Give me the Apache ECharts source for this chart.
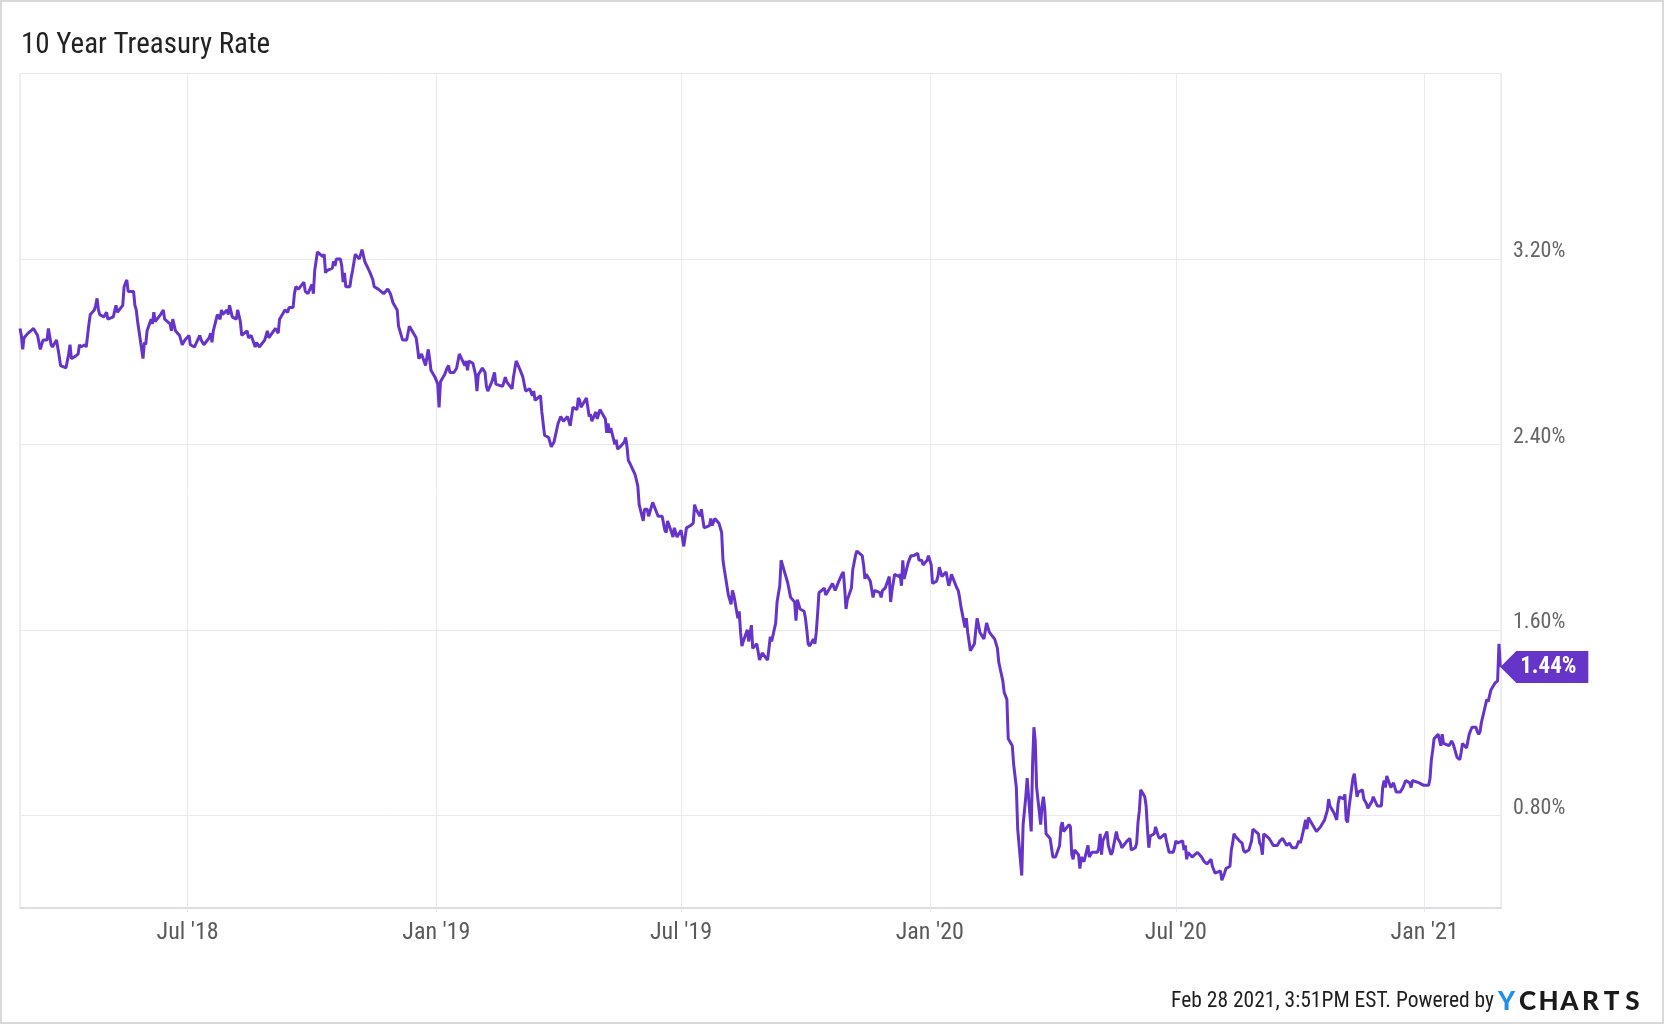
<!DOCTYPE html>
<html>
<head>
<meta charset="utf-8">
<title>10 Year Treasury Rate</title>
<script src="https://cdn.jsdelivr.net/npm/echarts@6/dist/echarts.min.js"></script>
<style>
  html, body { margin: 0; padding: 0; background: #fff; }
  #main { width: 1664px; height: 1024px; }
  #frame {
    position: absolute; left: 0; top: 0; width: 1664px; height: 1024px;
    box-sizing: border-box; border: 2px solid #dadada; pointer-events: none;
  }
</style>
</head>
<body>
<div id="main"></div>
<div id="frame"></div>
<script>
// closing rates, grouped by year (MM-DD)
const days2018 = ['02-27','02-28','03-01','03-02','03-05','03-07','03-09','03-12','03-14','03-16','03-19','03-20','03-22','03-23','03-26','03-28','03-29',
  '04-02','04-04','04-05','04-06','04-09','04-11','04-12','04-13','04-16','04-17','04-19','04-20','04-23','04-24','04-25','04-26','04-27','04-30',
  '05-02','05-03','05-07','05-09','05-10','05-14','05-15','05-17','05-18','05-22','05-23','05-24','05-25','05-29','05-30','05-31',
  '06-01','06-04','06-05','06-06','06-07','06-11','06-13','06-14','06-18','06-19','06-20','06-22','06-25','06-27','06-29',
  '07-02','07-03','07-06','07-10','07-11','07-13','07-17','07-18','07-19','07-20','07-23','07-25','07-26','07-27','07-30','07-31',
  '08-01','08-03','08-06','08-07','08-09','08-10','08-14','08-15','08-17','08-20','08-21','08-23','08-27','08-29','08-30',
  '09-04','09-06','09-07','09-11','09-13','09-14','09-17','09-18','09-19','09-21','09-25','09-26','09-28',
  '10-01','10-02','10-03','10-04','10-05','10-09','10-10','10-11','10-12','10-16','10-17','10-18','10-19','10-22','10-23','10-24','10-25','10-26','10-29','10-30','10-31',
  '11-02','11-05','11-07','11-08','11-09','11-13','11-15','11-16','11-19','11-21','11-23','11-26','11-28','11-30',
  '12-03','12-04','12-06','12-07','12-10','12-12','12-14','12-17','12-18','12-19','12-21','12-24','12-26','12-27','12-28','12-31'];
const rates2018 = [2.90,2.87,2.81,2.86,2.88,2.89,2.90,2.87,2.81,2.85,2.85,2.90,2.83,2.82,2.85,2.78,2.74,
  2.73,2.79,2.83,2.77,2.78,2.79,2.83,2.82,2.83,2.82,2.92,2.96,2.98,3.00,3.03,2.98,2.96,2.95,
  2.97,2.94,2.95,3.00,2.97,3.00,3.08,3.11,3.06,3.06,3.00,2.98,2.93,2.77,2.84,2.83,
  2.89,2.94,2.92,2.97,2.93,2.96,2.98,2.94,2.92,2.89,2.94,2.89,2.87,2.83,2.85,
  2.87,2.83,2.82,2.87,2.85,2.83,2.86,2.88,2.84,2.89,2.96,2.94,2.98,2.96,2.98,2.96,
  3.00,2.95,2.94,2.98,2.93,2.87,2.89,2.86,2.87,2.82,2.84,2.82,2.85,2.89,2.86,
  2.90,2.88,2.94,2.98,2.97,2.99,2.99,3.05,3.08,3.07,3.10,3.06,3.05,
  3.09,3.05,3.15,3.19,3.23,3.21,3.22,3.14,3.15,3.16,3.19,3.17,3.20,3.20,3.17,3.10,3.14,3.08,3.08,3.12,3.15,
  3.22,3.20,3.24,3.24,3.19,3.14,3.11,3.08,3.07,3.06,3.05,3.07,3.05,3.01,
  2.98,2.91,2.87,2.85,2.85,2.91,2.89,2.86,2.82,2.77,2.79,2.74,2.81,2.77,2.72,2.69];

const days2019 = ['01-02','01-03','01-04','01-07','01-09','01-10','01-11','01-14','01-16','01-18','01-22','01-23','01-24','01-25','01-28','01-30','01-31',
  '02-01','02-04','02-06','02-07','02-08','02-11','02-13','02-14','02-19','02-21','02-22','02-26','02-27',
  '03-01','03-04','03-06','03-08','03-11','03-13','03-14','03-15','03-19','03-20','03-22','03-25','03-27','03-29',
  '04-01','04-03','04-05','04-08','04-10','04-12','04-15','04-16','04-17','04-18','04-22','04-24','04-25','04-26','04-29','04-30',
  '05-02','05-06','05-07','05-08','05-09','05-10','05-13','05-14','05-15','05-17','05-20','05-21','05-22','05-23','05-24','05-28','05-30','05-31',
  '06-03','06-04','06-06','06-07','06-10','06-12','06-14','06-17','06-19','06-20','06-21','06-24','06-25','06-26','06-28',
  '07-01','07-03','07-05','07-08','07-10','07-11','07-12','07-15','07-16','07-18','07-22','07-23','07-24','07-26','07-29','07-31',
  '08-01','08-02','08-05','08-07','08-08','08-09','08-12','08-13','08-14','08-15','08-16','08-19','08-20','08-22','08-23','08-26','08-28','08-30',
  '09-03','09-05','09-06','09-09','09-10','09-12','09-13','09-16','09-18','09-20','09-23','09-24','09-25','09-27','09-30',
  '10-01','10-02','10-03','10-04','10-07','10-08','10-09','10-10','10-11','10-15','10-16','10-17','10-18','10-21','10-23','10-24','10-25','10-28','10-29','10-30','10-31',
  '11-01','11-04','11-05','11-07','11-08','11-12','11-13','11-14','11-15','11-18','11-20','11-21','11-22','11-25','11-26','11-27','11-29',
  '12-02','12-03','12-04','12-06','12-09','12-10','12-11','12-12','12-13','12-16','12-18','12-20','12-23','12-24','12-26','12-27','12-30','12-31'];
const rates2019 = [2.66,2.56,2.67,2.70,2.73,2.74,2.71,2.71,2.73,2.79,2.74,2.76,2.72,2.76,2.75,2.70,2.63,
  2.70,2.73,2.71,2.65,2.63,2.67,2.71,2.66,2.65,2.69,2.67,2.64,2.69,
  2.76,2.72,2.69,2.63,2.64,2.61,2.63,2.59,2.61,2.54,2.44,2.43,2.39,2.41,
  2.49,2.52,2.50,2.52,2.48,2.56,2.55,2.60,2.59,2.56,2.60,2.52,2.53,2.50,2.54,2.51,
  2.55,2.51,2.45,2.49,2.45,2.47,2.40,2.42,2.38,2.39,2.41,2.43,2.39,2.33,2.32,2.27,2.22,2.14,
  2.07,2.12,2.12,2.09,2.15,2.12,2.09,2.09,2.03,2.02,2.07,2.02,2.00,2.04,2.00,
  2.03,1.96,2.04,2.05,2.06,2.14,2.12,2.09,2.12,2.04,2.05,2.08,2.05,2.08,2.06,2.02,
  1.90,1.86,1.75,1.71,1.77,1.75,1.65,1.68,1.59,1.53,1.55,1.60,1.55,1.62,1.52,1.54,1.47,1.50,
  1.47,1.57,1.55,1.63,1.72,1.79,1.90,1.84,1.80,1.74,1.72,1.64,1.73,1.69,1.68,
  1.65,1.60,1.54,1.53,1.56,1.54,1.59,1.67,1.76,1.78,1.75,1.76,1.76,1.80,1.77,1.77,1.80,1.84,1.85,1.78,1.69,
  1.73,1.78,1.86,1.92,1.94,1.92,1.88,1.82,1.84,1.81,1.74,1.77,1.77,1.76,1.74,1.77,1.78,
  1.83,1.72,1.77,1.84,1.83,1.84,1.79,1.90,1.82,1.89,1.92,1.92,1.93,1.90,1.90,1.88,1.90,1.92];

const days2020 = ['01-02','01-03','01-06','01-07','01-08','01-09','01-10','01-13','01-14','01-15','01-16','01-17','01-21','01-22','01-23','01-24','01-27','01-28','01-29','01-31',
  '02-03','02-04','02-05','02-06','02-07','02-10','02-12','02-13','02-14','02-18','02-19','02-20','02-21','02-24','02-25','02-27','02-28',
  '03-02','03-03','03-04','03-05','03-06','03-09','03-10','03-11','03-12','03-13','03-16','03-17','03-18','03-19','03-20','03-23','03-24','03-25','03-26','03-27','03-30','03-31',
  '04-01','04-03','04-06','04-07','04-08','04-09','04-13','04-14','04-15','04-16','04-17','04-20','04-21','04-22','04-24','04-27','04-28','04-30',
  '05-01','05-04','05-05','05-06','05-07','05-08','05-11','05-12','05-14','05-15','05-18','05-19','05-21','05-22','05-26','05-28','05-29',
  '06-01','06-02','06-03','06-04','06-05','06-08','06-09','06-10','06-11','06-12','06-15','06-16','06-18','06-19','06-23','06-24','06-26','06-29','06-30',
  '07-01','07-02','07-06','07-07','07-08','07-09','07-10','07-13','07-15','07-17','07-20','07-22','07-24','07-27','07-28','07-30','07-31',
  '08-03','08-04','08-06','08-07','08-10','08-11','08-12','08-13','08-14','08-17','08-19','08-20','08-21','08-24','08-26','08-27','08-28','08-31',
  '09-01','09-02','09-03','09-04','09-08','09-10','09-11','09-14','09-16','09-18','09-21','09-23','09-24','09-25','09-28','09-30',
  '10-01','10-02','10-05','10-06','10-07','10-09','10-13','10-14','10-16','10-19','10-20','10-21','10-22','10-23','10-26','10-28','10-29','10-30',
  '11-02','11-03','11-04','11-05','11-06','11-09','11-10','11-12','11-13','11-16','11-17','11-19','11-20','11-23','11-24','11-25','11-27','11-30',
  '12-01','12-02','12-03','12-04','12-07','12-09','12-11','12-14','12-16','12-18','12-21','12-22','12-23','12-28','12-31'];
const rates2020 = [1.88,1.80,1.81,1.83,1.87,1.85,1.83,1.85,1.82,1.79,1.81,1.84,1.78,1.77,1.74,1.70,1.61,1.65,1.59,1.51,
  1.54,1.60,1.65,1.65,1.59,1.56,1.63,1.61,1.59,1.56,1.56,1.52,1.46,1.38,1.33,1.30,1.13,
  1.10,1.02,1.02,0.92,0.74,0.54,0.76,0.82,0.88,0.96,0.73,1.02,1.18,1.12,0.92,0.76,0.84,0.88,0.83,0.72,0.70,0.70,
  0.62,0.62,0.67,0.75,0.77,0.73,0.76,0.75,0.63,0.61,0.65,0.63,0.57,0.62,0.60,0.67,0.62,0.64,
  0.64,0.64,0.66,0.72,0.63,0.69,0.73,0.67,0.63,0.64,0.73,0.70,0.68,0.66,0.69,0.70,0.65,
  0.66,0.68,0.77,0.82,0.91,0.88,0.84,0.74,0.66,0.71,0.72,0.75,0.71,0.70,0.72,0.69,0.64,0.64,0.66,
  0.69,0.68,0.69,0.65,0.67,0.61,0.64,0.62,0.63,0.64,0.62,0.60,0.59,0.61,0.58,0.55,0.55,
  0.56,0.52,0.55,0.57,0.58,0.65,0.68,0.72,0.71,0.69,0.68,0.65,0.64,0.65,0.69,0.74,0.74,0.72,
  0.68,0.67,0.63,0.72,0.70,0.68,0.67,0.67,0.69,0.70,0.67,0.68,0.67,0.66,0.66,0.69,
  0.68,0.70,0.78,0.74,0.79,0.77,0.73,0.73,0.75,0.78,0.80,0.82,0.87,0.84,0.81,0.78,0.85,0.88,
  0.87,0.89,0.78,0.77,0.83,0.96,0.98,0.88,0.90,0.91,0.87,0.85,0.83,0.86,0.88,0.88,0.84,0.84,
  0.92,0.95,0.92,0.97,0.92,0.94,0.90,0.90,0.92,0.95,0.94,0.92,0.95,0.94,0.93];

const days2021 = ['01-04','01-05','01-06','01-07','01-08','01-11','01-12','01-13','01-14','01-15','01-19','01-20','01-21','01-22','01-25','01-27','01-28','01-29',
  '02-01','02-02','02-03','02-05','02-08','02-09','02-10','02-11','02-12','02-16','02-17','02-18','02-19','02-22','02-23','02-24','02-25','02-26'];
const rates2021 = [0.93,0.96,1.04,1.08,1.13,1.15,1.15,1.10,1.15,1.11,1.10,1.10,1.12,1.11,1.05,1.04,1.07,1.11,
  1.09,1.12,1.15,1.18,1.18,1.16,1.15,1.16,1.20,1.30,1.29,1.29,1.34,1.37,1.37,1.38,1.54,1.44];

// y axis labels shown in the picture
const yTicks = [0.8, 1.6, 2.4, 3.2];

const lineColor = '#6634c8';
const fontFamily = '"Roboto Condensed", Roboto, sans-serif';

const points = [];
[[2018, days2018, rates2018], [2019, days2019, rates2019],
 [2020, days2020, rates2020], [2021, days2021, rates2021]].forEach(function (g) {
  g[1].forEach(function (d, i) {
    points.push([g[0] + '-' + d, g[2][i]]);
  });
});
const last = points[points.length - 1];

const myChart = echarts.init(document.getElementById('main'));
const option = {
  animation: false,
  backgroundColor: '#fff',
  title: {
    text: '10 Year Treasury Rate',
    left: 21,
    top: 31,
    padding: 0,
    textStyle: { fontFamily: fontFamily, fontSize: 29, fontWeight: 'normal', color: '#222' }
  },
  grid: {
    left: 20,
    right: 163,
    top: 73.5,
    bottom: 116,
    show: true,
    borderColor: '#e3e3e3',
    borderWidth: 1,
    outerBoundsMode: 'none'
  },
  xAxis: {
    type: 'time',
    min: '2018-02-27',
    max: '2021-02-26 12:00',
    splitNumber: 6,
    axisLine: { lineStyle: { color: '#dcdce3', width: 2 } },
    axisTick: { show: true, length: 4, lineStyle: { color: '#e6e6e6' } },
    splitLine: { show: true, lineStyle: { color: '#ebebeb', width: 1 } },
    axisLabel: {
      margin: 13,
      color: '#5a5a5a',
      fontFamily: fontFamily,
      fontSize: 24,
      showMinLabel: false,
      showMaxLabel: false,
      formatter: function (val) {
        const d = new Date(val);
        if (d.getDate() !== 1 || (d.getMonth() !== 0 && d.getMonth() !== 6)) return '';
        return (d.getMonth() === 0 ? 'Jan' : 'Jul') + " '" + String(d.getFullYear()).slice(2);
      }
    }
  },
  yAxis: {
    type: 'value',
    position: 'right',
    min: 0.4,
    max: 4.0,
    interval: 0.4,
    axisLine: { show: false },
    axisTick: { show: false },
    splitLine: { lineStyle: { color: ['rgba(0,0,0,0)', '#e9e9e9'], width: 1 } },
    axisLabel: {
      margin: 12,
      color: '#666',
      fontFamily: fontFamily,
      fontSize: 22,
      lineHeight: 14,
      verticalAlign: 'bottom',
      formatter: function (v) {
        const hit = yTicks.some(function (t) { return Math.abs(t - v) < 1e-6; });
        return hit ? v.toFixed(2) + '%' : '';
      }
    }
  },
  series: [
    {
      name: '10 Year Treasury Rate',
      type: 'line',
      data: points,
      showSymbol: false,
      lineStyle: { color: lineColor, width: 3 },
      itemStyle: { color: lineColor },
      markPoint: {
        symbol: 'path://M0,16 L16,0 L88,0 L88,32 L16,32 Z',
        symbolSize: [88, 32],
        symbolOffset: [44, 0],
        symbolKeepAspect: false,
        itemStyle: { color: lineColor },
        label: {
          show: true,
          color: '#fff',
          fontFamily: fontFamily,
          fontWeight: 'bold',
          fontSize: 23,
          offset: [4, 0],
          formatter: function (p) { return p.value.toFixed(2) + '%'; }
        },
        data: [{ coord: last, value: last[1] }]
      }
    }
  ],
  graphic: [
    {
      type: 'text',
      style: {
        text: 'Feb 28 2021, 3:51PM EST. Powered by',
        x: 1494,
        y: 1002,
        align: 'right',
        verticalAlign: 'middle',
        fontFamily: fontFamily,
        fontSize: 21.5,
        fill: '#1e1e1e'
      }
    },
    {
      type: 'text',
      style: {
        text: '{y|Y}{c|C}{c|H}{c|A}{c|R}{c|T}{c|S}',
        x: 1496,
        y: 1002,
        verticalAlign: 'middle',
        rich: {
          y: { fontFamily: 'Lato', fontWeight: 900, fontSize: 26, fill: '#1f8fea', width: 21, align: 'center' },
          c: { fontFamily: 'Lato', fontWeight: 900, fontSize: 26, fill: '#1b1b1b', width: 21, align: 'center' }
        }
      }
    }
  ]
};
myChart.setOption(option);
</script>
</body>
</html>
